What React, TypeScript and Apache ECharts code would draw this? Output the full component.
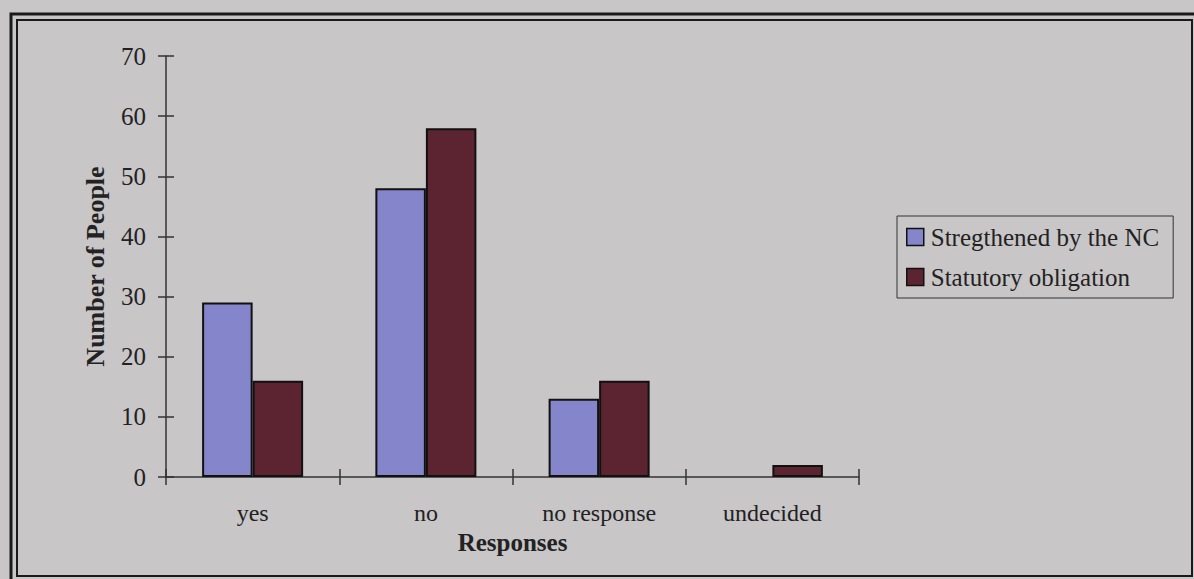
import React, { useEffect, useRef } from "react";
import * as echarts from "echarts";

const categories = ["yes", "no", "no response", "undecided"];
const strengthened = [29, 48, 13, 0];
const statutory = [16, 58, 16, 2];
const seriesNames = ["Stregthened by the NC", "Statutory obligation"];

const FONT = "'Liberation Serif', 'Times New Roman', serif";
const BG = "#c9c6c8";
const INK = "#222";

const toItems = (arr: number[]) =>
  arr.map((v) => (v === 0 ? { value: v, itemStyle: { borderWidth: 0 } } : v));

export default function App() {
  const ref = useRef<HTMLDivElement>(null);
  useEffect(() => {
    document.body.style.margin = "0";
    document.body.style.background = BG;
    const chart = echarts.init(ref.current!, null, { renderer: "svg" });
    chart.setOption({
      animation: false,
      backgroundColor: BG,
      textStyle: { fontFamily: FONT },
      graphic: [
        {
          type: "rect",
          shape: { x: 11, y: 14, width: 1190, height: 580 },
          style: { fill: "none", stroke: "#1a1a1a", lineWidth: 3 },
          silent: true,
        },
        {
          type: "rect",
          shape: { x: 17, y: 20, width: 1175, height: 556 },
          style: { fill: "none", stroke: "#1a1a1a", lineWidth: 2 },
          silent: true,
        },
      ],
      grid: { left: 166, top: 56, right: 335, bottom: 102, containLabel: false },
      legend: {
        orient: "vertical",
        left: 897,
        top: 216,
        padding: [6, 14, 6, 9],
        icon: "rect",
        itemWidth: 17,
        itemHeight: 17,
        itemGap: 10,
        borderColor: "#333",
        borderWidth: 1,
        selectedMode: false,
        itemStyle: { borderColor: "#111", borderWidth: 1.5 },
        textStyle: { fontFamily: FONT, fontSize: 25, color: INK, lineHeight: 30, padding: [0, 0, 0, 2] },
        data: seriesNames,
      },
      xAxis: [
        {
          type: "category",
          data: categories,
          name: "Responses",
          nameLocation: "middle",
          nameGap: 52,
          nameTextStyle: { fontFamily: FONT, fontSize: 25, fontWeight: "bold", color: INK },
          axisLine: { show: true, lineStyle: { color: "#333", width: 1.5 } },
          axisTick: { show: true, inside: false, length: 8, lineStyle: { color: "#333", width: 1.5 } },
          axisLabel: { fontFamily: FONT, fontSize: 24, color: INK, margin: 24 },
          splitLine: { show: false },
        },
        {
          type: "category",
          data: categories,
          position: "bottom",
          offset: 0,
          axisLine: { show: false },
          axisTick: { show: true, inside: true, length: 8, lineStyle: { color: "#333", width: 1.5 } },
          axisLabel: { show: false },
          splitLine: { show: false },
        },
      ],
      yAxis: [
        {
          type: "value",
          min: 0,
          max: 70,
          interval: 10,
          name: "Number of People",
          nameLocation: "middle",
          nameGap: 58,
          nameTextStyle: { fontFamily: FONT, fontSize: 26, fontWeight: "bold", color: INK },
          axisLine: { show: true, lineStyle: { color: "#333", width: 1.5 } },
          axisTick: { show: true, inside: false, length: 8, lineStyle: { color: "#333", width: 1.5 } },
          axisLabel: { fontFamily: FONT, fontSize: 25, color: INK, margin: 20 },
          splitLine: { show: false },
        },
        {
          type: "value",
          min: 0,
          max: 70,
          interval: 10,
          position: "left",
          offset: 0,
          axisLine: { show: false },
          axisTick: { show: true, inside: true, length: 8, lineStyle: { color: "#333", width: 1.5 } },
          axisLabel: { show: false },
          splitLine: { show: false },
        },
      ],
      series: [
        {
          name: seriesNames[0],
          type: "bar",
          data: toItems(strengthened),
          barGap: "0%",
          barCategoryGap: "41.7%",
          itemStyle: { color: "#8485cb", borderColor: "#111", borderWidth: 2 },
        },
        {
          name: seriesNames[1],
          type: "bar",
          data: toItems(statutory),
          barGap: "0%",
          barCategoryGap: "41.7%",
          itemStyle: { color: "#5b2430", borderColor: "#111", borderWidth: 2 },
        },
      ],
    });
    return () => chart.dispose();
  }, []);
  return <div ref={ref} style={{ width: 1194, height: 579 }} />;
}
